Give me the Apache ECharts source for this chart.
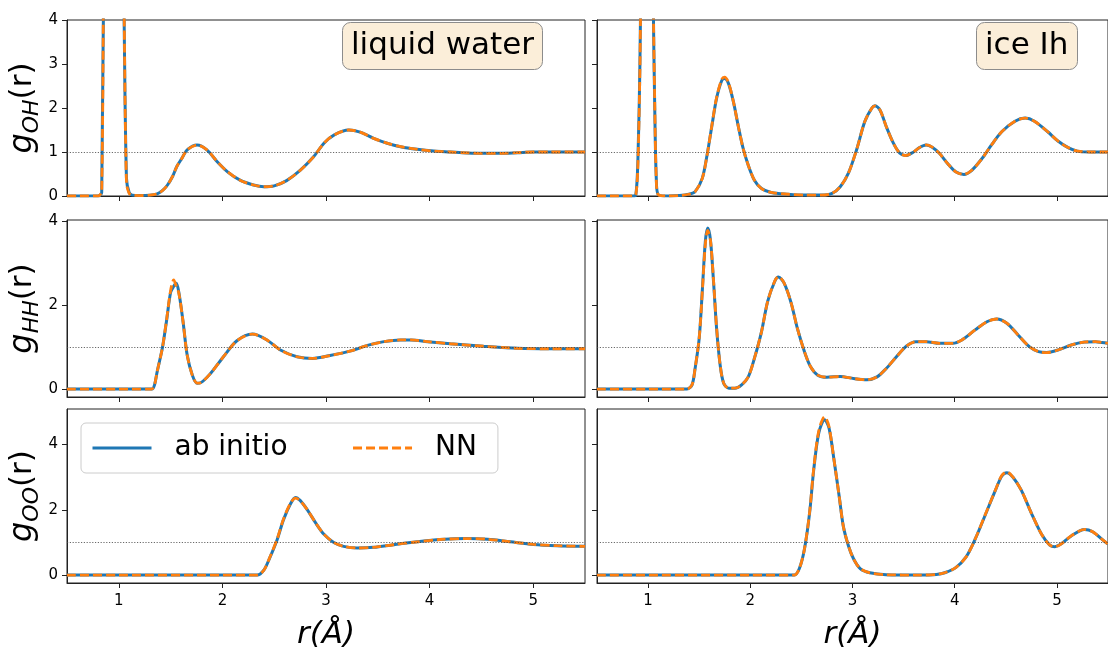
<!DOCTYPE html>
<html>
<head>
<meta charset="utf-8">
<script src="https://cdn.jsdelivr.net/npm/echarts@6/dist/echarts.min.js"></script>
<style>
html,body{margin:0;padding:0;background:#fff;}
#chart{width:1108px;height:651px;}
</style>
</head>
<body>
<div id="chart"></div>
<script>
// ---------------- data ----------------
const SERIES_NAMES = ['ab initio', 'NN'];
const PHASES = ['liquid water', 'ice Ih'];
const PAIRS = ['OH', 'HH', 'OO'];
const X_TICKS = [1, 2, 3, 4, 5];
const Y_TICKS_OH = [0, 1, 2, 3, 4];
const Y_TICKS_HH = [0, 2, 4];
const Y_TICKS_OO = [0, 2, 4];
const REF_LEVEL = [1];

// liquid water, g_OH
const r_liq_OH = [0.5,0.6,0.7,0.8,0.835,0.865,0.93,0.98,1.02,1.05,1.074,1.1,1.13,1.2,1.3,1.37,1.42,1.47,1.52,1.56,1.61,1.66,1.756,1.85,1.95,2.05,2.17,2.3,2.4,2.5,2.62,2.75,2.88,2.98,3.08,3.22,3.33,3.46,3.59,3.72,3.88,4.04,4.2,4.36,4.52,4.68,4.85,5.0,5.17,5.34,5.5];
const ai_liq_OH = [0,0,0,0,0.08,8,14,14,10,4.3,0.4,0.08,0.02,0.01,0.02,0.05,0.12,0.25,0.45,0.67,0.86,1.05,1.16,1.05,0.78,0.55,0.36,0.25,0.21,0.23,0.35,0.58,0.89,1.2,1.39,1.5,1.45,1.31,1.2,1.12,1.06,1.02,1.0,0.98,0.97,0.97,0.985,1.0,1.0,1.0,1.0];
const nn_liq_OH = [0,0,0,0,0.1,8.5,14,14,10,4.5,0.3,0.06,0.02,0.01,0.02,0.05,0.12,0.25,0.45,0.67,0.86,1.05,1.16,1.05,0.78,0.55,0.36,0.25,0.21,0.23,0.35,0.58,0.89,1.2,1.39,1.5,1.45,1.31,1.2,1.12,1.06,1.02,1.0,0.98,0.97,0.97,0.985,1.0,1.0,1.0,1.0];

// ice Ih, g_OH
const r_ice_OH = [0.5,0.7,0.85,0.88,0.9,0.92,0.94,1.0,1.03,1.05,1.065,1.08,1.1,1.2,1.3,1.4,1.46,1.53,1.577,1.625,1.67,1.72,1.748,1.786,1.835,1.883,1.93,1.98,2.04,2.11,2.205,2.37,2.53,2.69,2.8,2.88,2.96,3.04,3.12,3.19,3.22,3.27,3.33,3.4,3.46,3.52,3.59,3.655,3.72,3.78,3.85,3.93,4.01,4.09,4.17,4.27,4.36,4.46,4.59,4.69,4.78,4.91,5.01,5.11,5.2,5.33,5.5];
const ai_ice_OH = [0,0,0,0.03,0.8,3.0,7,16,10,4.5,2,0.4,0.03,0,0.01,0.04,0.1,0.4,0.93,1.61,2.22,2.62,2.67,2.56,2.14,1.58,1.08,0.7,0.36,0.17,0.08,0.04,0.02,0.02,0.06,0.21,0.52,1.05,1.69,2.0,2.05,1.95,1.58,1.2,0.98,0.92,0.99,1.1,1.16,1.11,0.97,0.74,0.55,0.49,0.59,0.86,1.16,1.46,1.7,1.77,1.7,1.46,1.25,1.1,1.02,1.0,1.0];
const nn_ice_OH = [0,0,0,0.03,0.7,2.9,7,16,10,4.6,2.1,0.4,0.03,0,0.01,0.04,0.1,0.4,0.93,1.62,2.24,2.65,2.7,2.58,2.14,1.58,1.08,0.7,0.36,0.17,0.08,0.04,0.02,0.02,0.06,0.21,0.52,1.05,1.69,2.0,2.05,1.95,1.58,1.2,0.98,0.92,0.99,1.1,1.16,1.11,0.97,0.74,0.55,0.49,0.59,0.86,1.16,1.46,1.7,1.77,1.7,1.46,1.25,1.1,1.02,1.0,1.0];

// liquid water, g_HH
const r_liq_HH = [0.5,1.0,1.3,1.32,1.345,1.37,1.42,1.46,1.5,1.53,1.555,1.58,1.62,1.66,1.71,1.756,1.79,1.885,2.01,2.14,2.29,2.43,2.56,2.72,2.87,3.04,3.24,3.4,3.56,3.72,3.82,3.98,4.2,4.52,4.85,5.17,5.5];
const ai_liq_HH = [0,0,0,0,0.1,0.41,0.97,1.61,2.3,2.45,2.52,2.3,1.61,0.81,0.33,0.14,0.15,0.37,0.77,1.15,1.31,1.17,0.93,0.77,0.73,0.8,0.91,1.04,1.13,1.17,1.17,1.13,1.08,1.02,0.97,0.96,0.96];
const nn_liq_HH = [0,0,0,0,0.1,0.41,0.97,1.63,2.35,2.6,2.45,2.28,1.61,0.81,0.33,0.14,0.15,0.37,0.77,1.15,1.31,1.17,0.93,0.77,0.73,0.8,0.91,1.04,1.13,1.17,1.17,1.13,1.08,1.02,0.97,0.96,0.96];

// ice Ih, g_HH
const r_ice_HH = [0.5,1.0,1.38,1.43,1.46,1.5,1.53,1.56,1.583,1.61,1.64,1.67,1.705,1.74,1.79,1.85,1.915,1.98,2.04,2.11,2.17,2.24,2.276,2.33,2.4,2.46,2.53,2.59,2.66,2.75,2.88,3.01,3.14,3.24,3.33,3.43,3.53,3.62,3.72,3.85,3.98,4.07,4.2,4.32,4.41,4.51,4.62,4.73,4.82,4.9,5.01,5.14,5.27,5.38,5.44,5.5];
const ai_ice_HH = [0,0,0,0.1,0.49,1.21,2.33,3.52,3.84,3.56,2.57,1.45,0.57,0.135,0.02,0.02,0.1,0.29,0.73,1.37,2.09,2.57,2.67,2.53,2.05,1.45,0.89,0.53,0.33,0.28,0.3,0.25,0.22,0.29,0.49,0.77,1.03,1.13,1.13,1.09,1.09,1.17,1.41,1.61,1.67,1.57,1.29,1.01,0.89,0.87,0.93,1.05,1.12,1.13,1.11,1.09];
const nn_ice_HH = [0,0,0,0.1,0.5,1.22,2.3,3.45,3.78,3.55,2.6,1.47,0.57,0.135,0.02,0.02,0.1,0.29,0.73,1.37,2.09,2.58,2.68,2.53,2.05,1.45,0.89,0.53,0.33,0.28,0.3,0.25,0.22,0.29,0.49,0.77,1.03,1.13,1.13,1.09,1.09,1.17,1.41,1.61,1.67,1.57,1.29,1.01,0.89,0.87,0.93,1.05,1.12,1.13,1.11,1.09];

// liquid water, g_OO
const r_liq_OO = [0.5,1.0,2.0,2.335,2.4,2.46,2.53,2.59,2.66,2.705,2.75,2.82,2.9,2.98,3.075,3.17,3.3,3.46,3.65,3.88,4.1,4.36,4.56,4.78,5.0,5.23,5.5];
const ai_liq_OO = [0,0,0,0,0.15,0.55,1.1,1.7,2.2,2.38,2.29,2.0,1.6,1.25,1.0,0.88,0.83,0.85,0.93,1.02,1.09,1.12,1.1,1.02,0.94,0.9,0.88];
const nn_liq_OO = [0,0,0,0,0.15,0.56,1.12,1.72,2.22,2.36,2.28,2.0,1.6,1.25,1.0,0.88,0.83,0.85,0.93,1.02,1.09,1.12,1.1,1.02,0.94,0.9,0.88];

// ice Ih, g_OO
const r_ice_OO = [0.5,2.0,2.43,2.48,2.53,2.58,2.62,2.67,2.727,2.77,2.82,2.87,2.91,2.96,3.01,3.075,3.17,3.33,3.655,3.82,3.91,4.01,4.11,4.2,4.3,4.4,4.46,4.51,4.57,4.65,4.75,4.85,4.93,4.98,5.04,5.14,5.27,5.35,5.44,5.5];
const ai_ice_OO = [0,0,0,0.2,0.8,1.9,3.21,4.36,4.76,4.51,3.51,2.41,1.5,0.9,0.5,0.2,0.07,0.01,0,0.02,0.08,0.23,0.55,1.1,1.85,2.61,3.03,3.14,3.0,2.61,1.9,1.25,0.92,0.87,0.95,1.2,1.4,1.33,1.1,0.95];
const nn_ice_OO = [0,0,0,0.2,0.8,1.92,3.25,4.42,4.85,4.55,3.51,2.41,1.5,0.9,0.5,0.2,0.07,0.01,0,0.02,0.08,0.23,0.55,1.1,1.86,2.62,3.05,3.16,3.0,2.61,1.9,1.25,0.92,0.87,0.95,1.2,1.4,1.33,1.1,0.95];

// ---------------- layout ----------------
const FONT = 'DejaVu Sans';
const COLS = [{left: 67, width: 518}, {left: 597, width: 517}];
const ROWS = [{top: 20, height: 176}, {top: 220, height: 177}, {top: 409, height: 177.5}];
const ROW_LIMITS = [[0, 4], [-0.19, 4.03], [-0.2425, 5.09]];
const ROW_TICKS = [Y_TICKS_OH, Y_TICKS_HH, Y_TICKS_OO];

const panels = [
  {row: 0, col: 0, r: r_liq_OH, ai: ai_liq_OH, nn: nn_liq_OH},
  {row: 0, col: 1, r: r_ice_OH, ai: ai_ice_OH, nn: nn_ice_OH},
  {row: 1, col: 0, r: r_liq_HH, ai: ai_liq_HH, nn: nn_liq_HH},
  {row: 1, col: 1, r: r_ice_HH, ai: ai_ice_HH, nn: nn_ice_HH},
  {row: 2, col: 0, r: r_liq_OO, ai: ai_liq_OO, nn: nn_liq_OO},
  {row: 2, col: 1, r: r_ice_OO, ai: ai_ice_OO, nn: nn_ice_OO}
];

const zip = (xs, ys) => xs.map((x, i) => [x, ys[i]]);

const grids = [], xAxes = [], yAxes = [], series = [];
panels.forEach((p, i) => {
  grids.push({
    left: COLS[p.col].left, width: COLS[p.col].width,
    top: ROWS[p.row].top, height: ROWS[p.row].height,
    show: true, borderColor: '#222', borderWidth: 1, backgroundColor: 'transparent',
    containLabel: false
  });
  const bottom = p.row === 2;
  xAxes.push({
    type: 'value', gridIndex: i, min: 0.5, max: 5.5,
    name: bottom ? 'r(Å)' : '',
    nameLocation: 'middle', nameGap: 36,
    nameTextStyle: {fontFamily: FONT, fontSize: 31, fontStyle: 'italic', color: '#000'},
    axisLine: {show: true, onZero: false, lineStyle: {color: '#222', width: 1}},
    axisTick: {show: true, length: 5, customValues: X_TICKS, lineStyle: {color: '#222', width: 1}},
    axisLabel: {show: bottom, customValues: X_TICKS, margin: 11, fontFamily: FONT, fontSize: 15, color: '#000'},
    splitLine: {show: false}
  });
  const left = p.col === 0;
  yAxes.push({
    type: 'value', gridIndex: i,
    min: ROW_LIMITS[p.row][0], max: ROW_LIMITS[p.row][1],
    name: left ? '{g|g}{s|' + PAIRS[p.row] + '}{p|(r)}' : '',
    nameLocation: 'middle', nameGap: 24, nameRotate: 90,
    nameTextStyle: {
      fontFamily: FONT, color: '#000', fontSize: 31,
      rich: {
        g: {fontFamily: FONT, fontStyle: 'italic', fontSize: 32, lineHeight: 40, verticalAlign: 'middle', color: '#000'},
        s: {fontFamily: FONT, fontStyle: 'italic', fontSize: 22, lineHeight: 22, verticalAlign: 'bottom', color: '#000'},
        p: {fontFamily: FONT, fontSize: 31, lineHeight: 40, verticalAlign: 'middle', color: '#000'}
      }
    },
    axisLine: {show: true, onZero: false, lineStyle: {color: '#222', width: 1}},
    axisTick: {show: true, length: 5, customValues: ROW_TICKS[p.row], lineStyle: {color: '#222', width: 1}},
    axisLabel: {show: left, customValues: ROW_TICKS[p.row], margin: 9, fontFamily: FONT, fontSize: 15, color: '#000'},
    splitLine: {show: false}
  });
  series.push({
    name: SERIES_NAMES[0], type: 'line', xAxisIndex: i, yAxisIndex: i,
    data: zip(p.r, p.ai), symbol: 'none', showSymbol: false, smooth: 0.3,
    lineStyle: {color: '#1f77b4', width: 3}, itemStyle: {color: '#1f77b4'}, z: 3,
    markLine: {
      silent: true, symbol: 'none', label: {show: false}, animation: false,
      lineStyle: {color: '#444', width: 0.8, type: [1.2, 1.6]},
      data: REF_LEVEL.map(v => ({yAxis: v}))
    }
  });
  series.push({
    name: SERIES_NAMES[1], type: 'line', xAxisIndex: i, yAxisIndex: i,
    data: zip(p.r, p.nn), symbol: 'none', showSymbol: false, smooth: 0.3,
    lineStyle: {color: '#ff7f0e', width: 2.8, type: [9, 4]}, itemStyle: {color: '#ff7f0e'}, z: 4
  });
});

const option = {
  animation: false,
  backgroundColor: '#fff',
  title: [
    {text: PHASES[0], left: 342, top: 22, padding: [6, 9, 6, 9],
     backgroundColor: '#fbeed9', borderColor: '#8c8c8c', borderWidth: 1, borderRadius: 8,
     textStyle: {fontFamily: FONT, fontSize: 31, fontWeight: 'normal', color: '#000', lineHeight: 36}},
    {text: PHASES[1], left: 976, top: 22, padding: [6, 9, 6, 9],
     backgroundColor: '#fbeed9', borderColor: '#8c8c8c', borderWidth: 1, borderRadius: 8,
     textStyle: {fontFamily: FONT, fontSize: 31, fontWeight: 'normal', color: '#000', lineHeight: 36}}
  ],
  legend: {
    data: SERIES_NAMES, left: 81, top: 423, orient: 'horizontal',
    padding: [11, 21, 11, 10], itemGap: 64, itemWidth: 59, itemHeight: 14,
    backgroundColor: 'rgba(255,255,255,0.85)', borderColor: '#cccccc', borderWidth: 1, borderRadius: 5,
    itemStyle: {opacity: 0},
    lineStyle: {width: 3},
    textStyle: {fontFamily: FONT, fontSize: 28, color: '#000', padding: [0, 0, 0, 18]},
    selectedMode: false
  },
  grid: grids, xAxis: xAxes, yAxis: yAxes, series: series
};

const chart = echarts.init(document.getElementById('chart'), null, {renderer: 'canvas'});
chart.setOption(option);
</script>
</body>
</html>
